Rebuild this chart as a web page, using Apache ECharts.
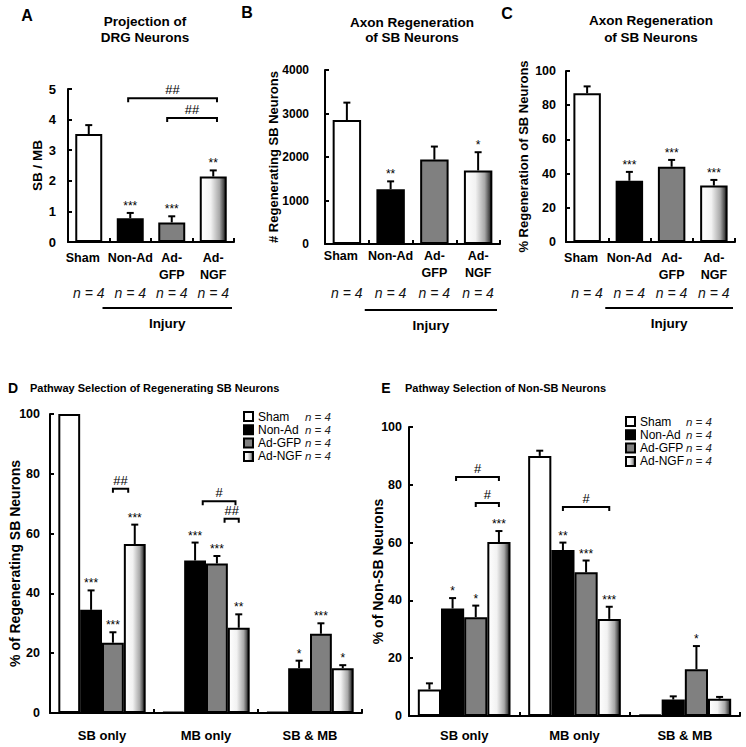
<!DOCTYPE html>
<html><head><meta charset="utf-8">
<script src="https://cdn.jsdelivr.net/npm/echarts@6/dist/echarts.min.js"></script>
<style>html,body{margin:0;padding:0;background:#fff}#c{width:746px;height:747px}</style>
</head><body><div id="c"></div>
<script>
// ---------------- DATA ----------------
const groups = ['Sham', 'Non-Ad', 'Ad-GFP', 'Ad-NGF'];
const groupAxisLabels = ['Sham\n ', 'Non-Ad\n ', 'Ad-\nGFP', 'Ad-\nNGF'];
const nLabels = ['n = 4', 'n = 4', 'n = 4', 'n = 4'];
const pathwayCats = ['SB only', 'MB only', 'SB & MB'];

// Panel A: SB / MB
const aMean = [3.53, 0.78, 0.64, 2.14];
const aErr = [3.82, 0.95, 0.84, 2.34];
const aStars = ['', '***', '***', '**'];
// [from category position, to category position, value, text]
const aBrackets = [[0.95, 3.09, 4.7, '##'], [1.89, 3.09, 4.05, '##']];

// Panel B: # regenerating SB neurons
const bMean = [2850, 1260, 1940, 1690];
const bErr = [3250, 1440, 2240, 2110];
const bStars = ['', '**', '', '*'];

// Panel C: % regeneration of SB neurons
const cMean = [87, 35.8, 44, 33];
const cErr = [91, 41, 48, 36.3];
const cStars = ['', '***', '***', '***'];

// Panel D: % of regenerating SB neurons (per group, over pathwayCats)
const dSham = [100, 0.4, 0.4];
const dShamErr = [100, 0.4, 0.4];
const dShamStars = ['', '', ''];
const dNonAd = [34.5, 51, 15];
const dNonAdErr = [41, 57, 17.5];
const dNonAdStars = ['***', '***', '*'];
const dGFP = [23.5, 50, 26.5];
const dGFPErr = [27, 52.5, 30];
const dGFPStars = ['***', '***', '***'];
const dNGF = [56.5, 28.5, 15];
const dNGFErr = [63, 33, 16];
const dNGFStars = ['***', '**', '*'];
// [category, from bar position, to bar position, value, text]
const dBrackets = [[0, 2.0, 2.7, 75, '##'], [1, 1.35, 2.85, 70.8, '#'], [1, 2.35, 3.0, 65, '##']];

// Panel E: % of non-SB neurons
const eSham = [9.2, 90, 0.5];
const eShamErr = [11.3, 91.8, 0.5];
const eShamStars = ['', '', ''];
const eNonAd = [37.2, 57.4, 5.7];
const eNonAdErr = [40.8, 60, 6.8];
const eNonAdStars = ['*', '**', ''];
const eGFP = [34.2, 49.7, 16.2];
const eGFPErr = [38.2, 53.8, 24.2];
const eGFPStars = ['*', '***', '*'];
const eNGF = [60.2, 33.6, 6];
const eNGFErr = [64, 37.8, 6.6];
const eNGFStars = ['***', '***', ''];
const eBrackets = [[0, 1.15, 3.0, 82.7, '#'], [0, 2.0, 3.0, 73.7, '#'], [1, 1.0, 3.0, 72.3, '#']];

// ---------------- STYLE / LAYOUT ----------------
const FONT = '"Liberation Sans", Arial, Helvetica, sans-serif';
const FILLS = ['#ffffff', '#000000', '#808080', {
  type: 'linear', x: 0, y: 0, x2: 1, y2: 0,
  colorStops: [{offset: 0, color: '#ffffff'}, {offset: 0.4, color: '#f2f2f2'},
               {offset: 0.75, color: '#a8a8a8'}, {offset: 1, color: '#1e1e1e'}]
}];
const CAT_GAP = 0.16;
const GRIDS = [
  {left: 68, top: 89, width: 166, height: 153},    // A
  {left: 325, top: 70, width: 175, height: 174},   // B
  {left: 566, top: 71, width: 169, height: 171},   // C
  {left: 50, top: 414, width: 312, height: 299},   // D
  {left: 409, top: 427, width: 331, height: 289}   // E
];

const chart = echarts.init(document.getElementById('c'), null, {renderer: 'svg', width: 746, height: 747});

function line(x1, y1, x2, y2, w) {
  return {type: 'line', shape: {x1, y1, x2, y2}, style: {stroke: '#000', lineWidth: w || 2}};
}
function txt(text, x, y, size, weight, align, vAlign, style) {
  return {type: 'text', x, y, style: {
    text, fill: '#000', font: (style || 'normal') + ' ' + (weight || 'normal') + ' ' + size + 'px ' + FONT,
    textAlign: align || 'center', textVerticalAlign: vAlign || 'middle',
    align: align || 'center', verticalAlign: vAlign || 'middle'
  }};
}

function topXAxes(g, margin, nGap) {
  return [{
    type: 'category', gridIndex: g, position: 'bottom',
    data: groupAxisLabels.map((v, i) => i === 0 ? {value: v, textStyle: {padding: [0, 12, 0, 0]}} : v),
    axisLine: {show: true, onZero: false, lineStyle: {color: '#000', width: 2}},
    axisTick: {show: true, inside: true, length: 4, lineStyle: {color: '#000', width: 2}},
    axisLabel: {show: true, interval: 0, color: '#000', fontFamily: FONT, fontWeight: 'bold', fontSize: 12.5, lineHeight: 17, margin: margin, verticalAlign: 'top'},
    splitLine: {show: false}
  }, {
    type: 'category', gridIndex: g, data: groups, position: 'bottom', offset: nGap,
    axisLine: {show: false}, axisTick: {show: false}, splitLine: {show: false},
    axisLabel: {show: true, interval: 0, color: '#111', fontFamily: FONT, fontStyle: 'italic', fontSize: 14, margin: 0,
      formatter: (v, i) => nLabels[i]}
  }];
}
function pathXAxis(g, margin) {
  return {
    type: 'category', gridIndex: g, data: pathwayCats, position: 'bottom',
    axisLine: {show: true, onZero: false, lineStyle: {color: '#000', width: 2}},
    axisTick: {show: true, inside: true, length: 4, lineStyle: {color: '#000', width: 2}},
    axisLabel: {show: true, interval: 0, color: '#000', fontFamily: FONT, fontWeight: 'bold', fontSize: 13, margin: margin},
    splitLine: {show: false}
  };
}
function yAx(g, max, interval, name, nameGap, labelMargin, labelSize, nameSize) {
  return {
    type: 'value', gridIndex: g, min: 0, max, interval, name, nameLocation: 'middle', nameGap,
    nameMoveOverlap: false,
    nameTextStyle: {color: '#000', fontFamily: FONT, fontWeight: 'bold', fontSize: nameSize},
    axisLine: {show: true, lineStyle: {color: '#000', width: 2}},
    axisTick: {show: true, inside: true, length: 4, lineStyle: {color: '#000', width: 2}},
    axisLabel: {show: true, color: '#000', fontFamily: FONT, fontWeight: 'bold', fontSize: labelSize, margin: labelMargin,
      formatter: v => String(v)},
    splitLine: {show: false}
  };
}

function topBars(xi, yi, means) {
  return {
    type: 'bar', xAxisIndex: xi, yAxisIndex: yi, barWidth: '65%', silent: true,
    data: means.map((v, i) => ({value: v, itemStyle: {color: FILLS[i], borderColor: '#000', borderWidth: 2}})),
    z: 2
  };
}
function starText(x, y, s) {
  return txt(s, x, y - 1, 12, 'normal', 'center', 'bottom');
}
function topErr(xi, yi, means, errs, stars) {
  return {
    type: 'custom', xAxisIndex: xi, yAxisIndex: yi, silent: true, z: 5,
    data: means.map((m, i) => [i, m, errs[i]]),
    renderItem: (params, api) => {
      const i = api.value(0);
      const b = api.coord([i, api.value(1)]), t = api.coord([i, api.value(2)]);
      const ch = [];
      if (t[1] < b[1] - 0.5) { ch.push(line(b[0], b[1], t[0], t[1]), line(t[0] - 3.5, t[1], t[0] + 3.5, t[1])); }
      const s = stars[params.dataIndex];
      if (s) ch.push(starText(t[0], t[1], s));
      return {type: 'group', children: ch};
    }
  };
}
function topBrackets(xi, yi, brackets) {
  return {
    type: 'custom', xAxisIndex: xi, yAxisIndex: yi, silent: true, z: 6,
    data: brackets.map(b => [0, b[2]]),
    renderItem: (params, api) => {
      const br = brackets[params.dataIndex];
      const band = api.size([1, 0])[0];
      const c0 = api.coord([0, br[2]]);
      const x1 = c0[0] + br[0] * band, x2 = c0[0] + br[1] * band, y = c0[1];
      return {type: 'group', children: [
        {type: 'polyline', shape: {points: [[x1, y + 4], [x1, y], [x2, y], [x2, y + 4]]}, style: {stroke: '#000', lineWidth: 2, fill: null}},
        txt(br[3], (x1 + x2) / 2, y - 2, 13, 'normal', 'center', 'bottom')
      ]};
    }
  };
}
function groupBars(xi, yi, name, k, vals) {
  return {
    type: 'bar', name, xAxisIndex: xi, yAxisIndex: yi, barGap: '0%', barCategoryGap: (CAT_GAP * 100) + '%',
    silent: true, data: vals, itemStyle: {color: FILLS[k], borderColor: '#000', borderWidth: 2}, z: 2
  };
}
function groupErr(xi, yi, k, vals, errs, stars) {
  return {
    type: 'custom', xAxisIndex: xi, yAxisIndex: yi, silent: true, z: 5,
    data: vals.map((v, i) => [i, v, errs[i]]),
    renderItem: (params, api) => {
      const c = api.value(0);
      const band = api.size([1, 0])[0];
      const w = band * (1 - CAT_GAP) / 4;
      const off = (k - 1.5) * w;
      const b = api.coord([c, api.value(1)]), t = api.coord([c, api.value(2)]);
      const x = b[0] + off;
      const ch = [];
      if (t[1] < b[1] - 0.5) { ch.push(line(x, b[1], x, t[1]), line(x - 3.5, t[1], x + 3.5, t[1])); }
      const s = stars[params.dataIndex];
      if (s) ch.push(starText(x, t[1], s));
      return {type: 'group', children: ch};
    }
  };
}
function groupBrackets(xi, yi, brackets) {
  return {
    type: 'custom', xAxisIndex: xi, yAxisIndex: yi, silent: true, z: 6,
    data: brackets.map(b => [b[0], b[3]]),
    renderItem: (params, api) => {
      const br = brackets[params.dataIndex];
      const band = api.size([1, 0])[0];
      const w = band * (1 - CAT_GAP) / 4;
      const c = api.coord([br[0], br[3]]);
      const x1 = c[0] + (br[1] - 1.5) * w, x2 = c[0] + (br[2] - 1.5) * w, y = c[1];
      return {type: 'group', children: [
        {type: 'polyline', shape: {points: [[x1, y + 4], [x1, y], [x2, y], [x2, y + 4]]}, style: {stroke: '#000', lineWidth: 2, fill: null}},
        txt(br[4], (x1 + x2) / 2, y - 2, 13, 'normal', 'center', 'bottom')
      ]};
    }
  };
}
function legendFor(left, top, aWidth) {
  return {
    data: groups, orient: 'vertical', left, top, itemWidth: 9, itemHeight: 9, itemGap: 1.3,
    selectedMode: false, icon: 'rect', padding: 0,
    formatter: name => '{a|' + name + '}{b|' + nLabels[groups.indexOf(name)] + '}',
    textStyle: {rich: {
      a: {width: aWidth, fontSize: 12, lineHeight: 13, fontFamily: FONT, color: '#000'},
      b: {fontSize: 11.5, lineHeight: 13, fontStyle: 'italic', fontFamily: FONT, color: '#222'}
    }}
  };
}

// Decorations (panel letters, titles, injury lines)
const graphic = [];
graphic.push(txt('A', 27, 15, 16, 'bold'));
graphic.push(txt('B', 247, 12, 16, 'bold'));
graphic.push(txt('C', 507, 13, 16, 'bold'));
graphic.push(txt('D', 13, 388, 14, 'bold'));
graphic.push(txt('E', 386, 388, 14, 'bold'));
graphic.push(txt('Projection of', 145, 21, 13.5, 'bold'));
graphic.push(txt('DRG Neurons', 145, 37, 13.5, 'bold'));
graphic.push(txt('Axon Regeneration', 412, 22, 13.5, 'bold'));
graphic.push(txt('of SB Neurons', 412, 37, 13.5, 'bold'));
graphic.push(txt('Axon Regeneration', 651, 20, 13.5, 'bold'));
graphic.push(txt('of SB Neurons', 651, 37, 13.5, 'bold'));
graphic.push(txt('Pathway Selection of Regenerating SB Neurons', 30, 388, 11, 'bold', 'left'));
graphic.push(txt('Pathway Selection of Non-SB Neurons', 405, 388, 11, 'bold', 'left'));
[[0, 7, 2], [1, 4, 3], [2, 3, 2]].forEach(([g, dl, dr]) => {
  const G = GRIDS[g];
  const y = G.top + G.height + 66;
  const x1 = G.left + G.width / 4 - dl, x2 = G.left + G.width - dr;
  graphic.push({type: 'line', shape: {x1, y1: y, x2, y2: y}, style: {stroke: '#000', lineWidth: 2}});
  graphic.push(txt('Injury', (x1 + x2) / 2, y + 15, 13.5, 'bold'));
});

const option = {
  animation: false,
  backgroundColor: '#fff',
  textStyle: {fontFamily: FONT},
  grid: GRIDS.map(g => Object.assign({containLabel: false, outerBoundsMode: 'none'}, g)),
  xAxis: [
    ...topXAxes(0, 7, 44),   // 0,1
    ...topXAxes(1, 3, 42),   // 2,3
    ...topXAxes(2, 7, 44),   // 4,5
    pathXAxis(3, 16),        // 6
    pathXAxis(4, 13)         // 7
  ],
  yAxis: [
    yAx(0, 5, 1, 'SB / MB', 24, 12, 13, 13.5),
    yAx(1, 4000, 1000, '# Regenerating SB Neurons', 45, 16, 12, 13),
    yAx(2, 100, 20, '% Regeneration of SB Neurons', 36, 10, 12.5, 13),
    yAx(3, 100, 20, '% of Regenerating SB Neurons', 28, 10, 12.5, 14),
    yAx(4, 100, 20, '% of Non-SB Neurons', 24, 7, 12.5, 14)
  ],
  legend: [legendFor(243, 410.5, 47), legendFor(625, 415.5, 46)],
  series: [
    topBars(0, 0, aMean), topErr(0, 0, aMean, aErr, aStars), topBrackets(0, 0, aBrackets),
    topBars(2, 1, bMean), topErr(2, 1, bMean, bErr, bStars),
    topBars(4, 2, cMean), topErr(4, 2, cMean, cErr, cStars),
    groupBars(6, 3, 'Sham', 0, dSham), groupBars(6, 3, 'Non-Ad', 1, dNonAd),
    groupBars(6, 3, 'Ad-GFP', 2, dGFP), groupBars(6, 3, 'Ad-NGF', 3, dNGF),
    groupErr(6, 3, 0, dSham, dShamErr, dShamStars), groupErr(6, 3, 1, dNonAd, dNonAdErr, dNonAdStars),
    groupErr(6, 3, 2, dGFP, dGFPErr, dGFPStars), groupErr(6, 3, 3, dNGF, dNGFErr, dNGFStars),
    groupBrackets(6, 3, dBrackets),
    groupBars(7, 4, 'Sham', 0, eSham), groupBars(7, 4, 'Non-Ad', 1, eNonAd),
    groupBars(7, 4, 'Ad-GFP', 2, eGFP), groupBars(7, 4, 'Ad-NGF', 3, eNGF),
    groupErr(7, 4, 0, eSham, eShamErr, eShamStars), groupErr(7, 4, 1, eNonAd, eNonAdErr, eNonAdStars),
    groupErr(7, 4, 2, eGFP, eGFPErr, eGFPStars), groupErr(7, 4, 3, eNGF, eNGFErr, eNGFStars),
    groupBrackets(7, 4, eBrackets)
  ],
  graphic
};
chart.setOption(option);
</script>
</body></html>
